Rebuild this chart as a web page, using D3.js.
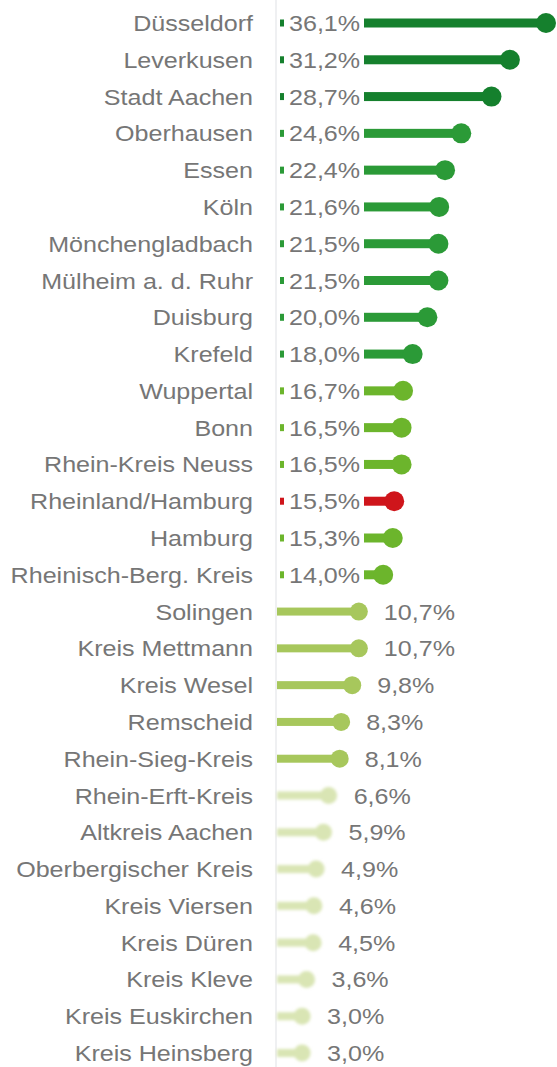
<!DOCTYPE html>
<html>
<head>
<meta charset="utf-8">
<script src="https://cdn.jsdelivr.net/npm/d3@7"></script>
<style>
  html, body { margin: 0; padding: 0; background: #fff; }
  svg { display: block; }
  text { font-family: "Liberation Sans", Arial, sans-serif; fill: #767676; }
</style>
</head>
<body>
<div id="chart"></div>
<script>
// rows, top to bottom
const names = [
  "Düsseldorf", "Leverkusen", "Stadt Aachen", "Oberhausen", "Essen", "Köln",
  "Mönchengladbach", "Mülheim a. d. Ruhr", "Duisburg", "Krefeld", "Wuppertal",
  "Bonn", "Rhein-Kreis Neuss", "Rheinland/Hamburg", "Hamburg",
  "Rheinisch-Berg. Kreis", "Solingen", "Kreis Mettmann", "Kreis Wesel",
  "Remscheid", "Rhein-Sieg-Kreis", "Rhein-Erft-Kreis", "Altkreis Aachen",
  "Oberbergischer Kreis", "Kreis Viersen", "Kreis Düren", "Kreis Kleve",
  "Kreis Euskirchen", "Kreis Heinsberg"
];
const values = [
  36.1, 31.2, 28.7, 24.6, 22.4, 21.6, 21.5, 21.5, 20.0, 18.0, 16.7, 16.5, 16.5,
  15.5, 15.3, 14.0, 10.7, 10.7, 9.8, 8.3, 8.1, 6.6, 5.9, 4.9, 4.6, 4.5, 3.6,
  3.0, 3.0
];
// colour class of each row
const tiers = [
  "t1", "t1", "t1", "t2", "t2", "t2", "t2", "t2", "t2", "t2", "t3", "t3", "t3",
  "ref", "t3", "t3", "t4", "t4", "t4", "t4", "t4", "t5", "t5", "t5", "t5", "t5",
  "t5", "t5", "t5"
];

const data = names.map((n, i) => ({name: n, value: values[i], tier: tiers[i]}));

var width = 557, height = 1067;
var axisX = 276;
var sx = 1.14; // text is drawn a bit wide in the original
var fs = "22px";

var color = d3.scaleOrdinal()
  .domain(["t1", "t2", "t3", "ref", "t4", "t5"])
  .range(["#15802d", "#2b9a37", "#6cb52c", "#cf151b", "#a7c75c", "#d9e5b4"]);

var x = d3.scaleLinear().domain([0, 36.1]).range([280, 546]);
var y = d3.scalePoint().domain(names).range([23, 1053]);

var fmt = v => d3.format(".1f")(v).replace(".", ",") + "%";

var svg = d3.select("#chart").append("svg")
  .attr("width", width)
  .attr("height", height);

var defs = svg.append("defs");
defs.append("filter").attr("id", "soft")
  .attr("x", "-20%").attr("y", "-60%").attr("width", "140%").attr("height", "220%")
  .append("feGaussianBlur").attr("stdDeviation", 1.6);

// axis line
svg.append("line")
  .attr("x1", axisX).attr("x2", axisX)
  .attr("y1", 0).attr("y2", height)
  .attr("stroke", "#e4e6ea")
  .attr("stroke-width", 1.2);

var row = svg.selectAll(".row")
  .data(data)
  .enter().append("g")
  .attr("class", "row")
  .attr("transform", d => "translate(0," + y(d.name) + ")");

// category labels
row.append("text")
  .attr("transform", "translate(253,8) scale(" + sx + ",1)")
  .attr("text-anchor", "end")
  .style("font-size", fs)
  .text(d => d.name);

var big = row.filter(d => d.value >= 12);
var small = row.filter(d => d.value < 12);

// big values: marker, value, then lollipop
big.append("rect")
  .attr("x", 280).attr("y", -3.5)
  .attr("width", 4).attr("height", 7)
  .attr("fill", d => color(d.tier));

big.append("text")
  .attr("transform", "translate(289,8) scale(" + sx + ",1)")
  .style("font-size", fs)
  .text(d => fmt(d.value));

big.append("rect")
  .attr("x", 364).attr("y", -4.5)
  .attr("width", d => x(d.value) - 364).attr("height", 9)
  .attr("fill", d => color(d.tier));

big.append("circle")
  .attr("cx", d => x(d.value)).attr("r", 10)
  .attr("fill", d => color(d.tier));

// small values: lollipop from axis, value after the dot
var lolli = small.append("g")
  .attr("filter", d => d.tier === "t5" ? "url(#soft)" : null);

lolli.append("rect")
  .attr("x", axisX + 1).attr("y", -4)
  .attr("width", d => x(d.value) - axisX - 1).attr("height", 8)
  .attr("fill", d => color(d.tier));

lolli.append("circle")
  .attr("cx", d => x(d.value)).attr("r", d => d.tier === "t5" ? 8.5 : 9)
  .attr("fill", d => color(d.tier));

small.append("text")
  .attr("transform", d => "translate(" + (x(d.value) + 25) + ",8) scale(" + sx + ",1)")
  .style("font-size", fs)
  .text(d => fmt(d.value));
</script>
</body>
</html>
